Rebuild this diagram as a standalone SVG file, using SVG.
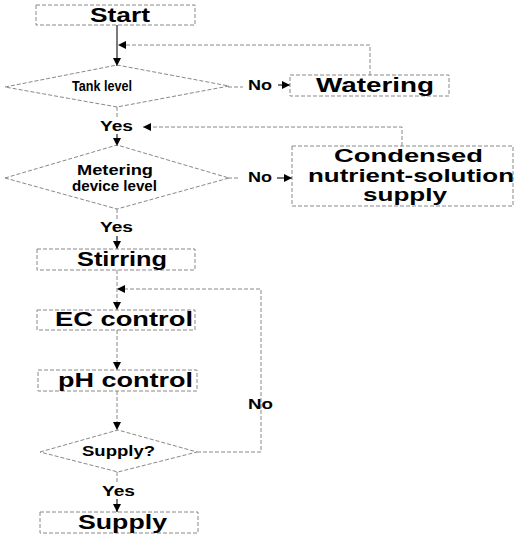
<svg xmlns="http://www.w3.org/2000/svg" width="517" height="535" viewBox="0 0 517 535">
<style>
.box{fill:none;stroke:#888;stroke-width:1;stroke-dasharray:4 2}
.c{fill:none;stroke:#888;stroke-width:1;stroke-dasharray:4 2}
.s{fill:none;stroke:#222;stroke-width:1.2}
text{font-family:"Liberation Sans",Arial,sans-serif;font-weight:bold;fill:#000}
.L{font-size:20px}
.L2{font-size:18px}
.m{font-size:14px}
</style>
<defs>
<marker id="ah" viewBox="0 0 10 10" refX="10" refY="5" markerWidth="8" markerHeight="8" markerUnits="userSpaceOnUse" orient="auto">
<path d="M0,0 L10,5 L0,10 z" fill="#000"/>
</marker>
<marker id="ah2" viewBox="0 0 10 10" refX="10" refY="5" markerWidth="12" markerHeight="8" markerUnits="userSpaceOnUse" orient="auto">
<path d="M0,0 L10,5 L0,10 z" fill="#000"/>
</marker>
</defs>
<rect width="517" height="535" fill="#fff"/>
<g id="connectors">
<line class="s" x1="117" y1="25" x2="117" y2="66" marker-end="url(#ah)"/>
<polyline class="c" points="370,75 370,45 118,45" marker-end="url(#ah2)"/>
<line class="c" x1="228" y1="87" x2="243" y2="87"/>
<line class="s" x1="278" y1="85" x2="290" y2="85" marker-end="url(#ah)"/>
<line class="c" x1="117" y1="107" x2="117" y2="119"/>
<polyline class="c" points="402,146 402,127 143,127" marker-end="url(#ah2)"/>
<line class="s" x1="117" y1="134" x2="117" y2="146" marker-end="url(#ah)"/>
<line class="c" x1="228" y1="178" x2="238" y2="178"/>
<line class="s" x1="277" y1="178" x2="292" y2="178" marker-end="url(#ah)"/>
<line class="c" x1="117" y1="209" x2="117" y2="220"/>
<line class="s" x1="117" y1="236" x2="117" y2="249" marker-end="url(#ah)"/>
<line class="c" x1="117" y1="270" x2="117" y2="310" marker-end="url(#ah)"/>
<polyline class="c" points="197,452 261,452 261,289 117,289" marker-end="url(#ah2)"/>
<line class="c" x1="117" y1="330" x2="117" y2="370" marker-end="url(#ah)"/>
<line class="c" x1="117" y1="391" x2="117" y2="430" marker-end="url(#ah)"/>
<line class="c" x1="117" y1="472" x2="117" y2="482"/>
<line class="s" x1="117" y1="499" x2="117" y2="512" marker-end="url(#ah)"/>
</g>
<g id="start">
<rect class="box" x="36" y="5" width="159" height="20"/>
<text class="L" x="90" y="22" textLength="60" lengthAdjust="spacingAndGlyphs">Start</text>
</g>
<g id="tank">
<polygon class="box" points="5,87 117,65 229,86 117,107"/>
<text class="m" x="72" y="91" textLength="60" lengthAdjust="spacingAndGlyphs">Tank level</text>
</g>
<g id="no1"><text class="m" x="248" y="90" textLength="24" lengthAdjust="spacingAndGlyphs">No</text></g>
<g id="watering">
<rect class="box" x="290" y="75" width="159" height="21"/>
<text class="L" x="316" y="92" textLength="118" lengthAdjust="spacingAndGlyphs">Watering</text>
</g>
<g id="yes1"><text class="m" x="100" y="131" textLength="33" lengthAdjust="spacingAndGlyphs">Yes</text></g>
<g id="metering">
<polygon class="box" points="5,178 117,145 229,178 117,209"/>
<text class="m" x="77" y="175" textLength="76" lengthAdjust="spacingAndGlyphs">Metering</text>
<text class="m" x="72" y="191" textLength="85" lengthAdjust="spacingAndGlyphs">device level</text>
</g>
<g id="no2"><text class="m" x="248" y="182" textLength="24" lengthAdjust="spacingAndGlyphs">No</text></g>
<g id="condensed">
<rect class="box" x="292" y="146" width="221" height="60"/>
<text class="L2" x="334" y="162" textLength="149" lengthAdjust="spacingAndGlyphs">Condensed</text>
<text class="L2" x="308" y="182" textLength="206" lengthAdjust="spacingAndGlyphs">nutrient-solution</text>
<text class="L2" x="363" y="201" textLength="84" lengthAdjust="spacingAndGlyphs">supply</text>
</g>
<g id="yes2"><text class="m" x="100" y="232" textLength="33" lengthAdjust="spacingAndGlyphs">Yes</text></g>
<g id="stirring">
<rect class="box" x="37" y="249" width="158" height="21"/>
<text class="L" x="77" y="266" textLength="90" lengthAdjust="spacingAndGlyphs">Stirring</text>
</g>
<g id="ec">
<rect class="box" x="37" y="310" width="158" height="20"/>
<text class="L" x="55" y="326" textLength="138" lengthAdjust="spacingAndGlyphs">EC control</text>
</g>
<g id="ph">
<rect class="box" x="38" y="370" width="159" height="21"/>
<text class="L" x="58" y="387" textLength="135" lengthAdjust="spacingAndGlyphs">pH control</text>
</g>
<g id="no3"><text class="m" x="248" y="409" textLength="25" lengthAdjust="spacingAndGlyphs">No</text></g>
<g id="supplyq">
<polygon class="box" points="40,452 118,430 197,452 118,472"/>
<text class="m" x="82" y="456" textLength="73" lengthAdjust="spacingAndGlyphs">Supply?</text>
</g>
<g id="yes3"><text class="m" x="102" y="496" textLength="33" lengthAdjust="spacingAndGlyphs">Yes</text></g>
<g id="supply">
<rect class="box" x="40" y="512" width="158" height="21"/>
<text class="L" x="78" y="529" textLength="89" lengthAdjust="spacingAndGlyphs">Supply</text>
</g>
</svg>
